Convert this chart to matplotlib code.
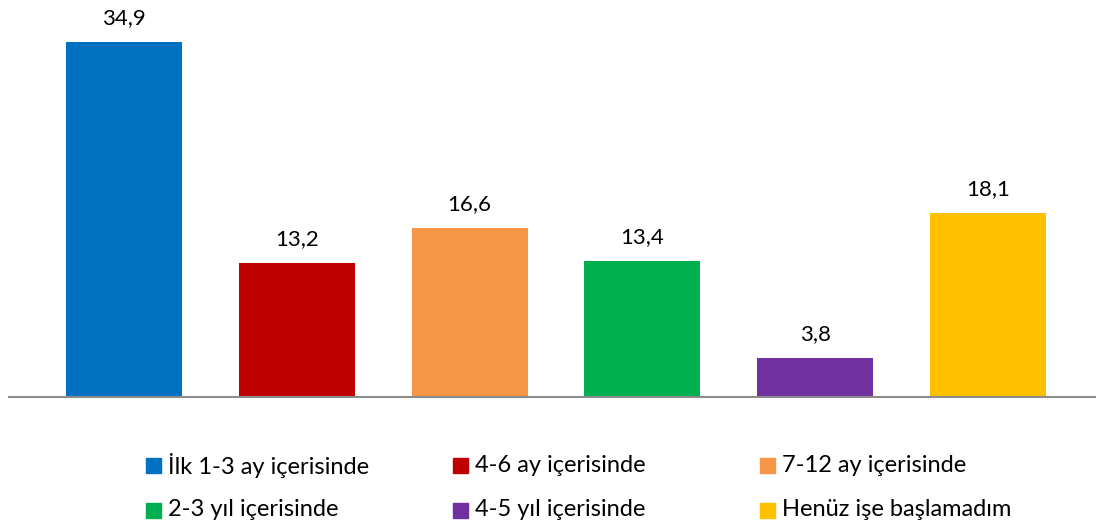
import matplotlib
matplotlib.use("Agg")
import matplotlib.pyplot as plt
from matplotlib.patches import Rectangle

plt.rcParams['font.family'] = ['Lato', 'DejaVu Sans']

categories = ["İlk 1-3 ay içerisinde", "4-6 ay içerisinde", "7-12 ay içerisinde",
              "2-3 yıl içerisinde", "4-5 yıl içerisinde", "Henüz işe başlamadım"]
values = [34.9, 13.2, 16.6, 13.4, 3.8, 18.1]
labels = ["34,9", "13,2", "16,6", "13,4", "3,8", "18,1"]
colors = ["#0070C0", "#C00000", "#F79646", "#00B050", "#7030A0", "#FFC000"]

W, H = 1096, 529
fig = plt.figure(figsize=(W / 100, H / 100), dpi=100)
ax = fig.add_axes([9 / W, (H - 397) / H, (W - 9) / W, 397 / H])

x = list(range(len(values)))
ax.bar(x, values, width=0.671, color=colors, zorder=2)
ax.set_xlim(-0.6655, 5.625)
ax.set_ylim(0, 39)
for xi, v, lab in zip(x, values, labels):
    ax.annotate(lab, (xi, v), xytext=(0, 10), textcoords="offset points",
                ha="center", va="bottom", fontsize=16, color="#000000")

for s in ["top", "right", "left"]:
    ax.spines[s].set_visible(False)
ax.spines["bottom"].set_color("#8C8C8C")
ax.spines["bottom"].set_linewidth(1.5)
ax.set_xticks([])
ax.set_yticks([])

# legend (3 columns x 2 rows)
col_x = [146, 453, 760]
row_y = [465, 510]
sq = 15
for i, (cat, col) in enumerate(zip(categories, colors)):
    cx = col_x[i % 3]
    cy = row_y[i // 3]
    fig.add_artist(Rectangle((cx / W, (H - cy - sq / 2) / H), sq / W, sq / H,
                             transform=fig.transFigure, color=col))
    fig.text((cx + 22) / W, (H - cy) / H, cat, ha="left", va="center",
             fontsize=17, color="#000000")

fig.savefig("out.png", dpi=100)
